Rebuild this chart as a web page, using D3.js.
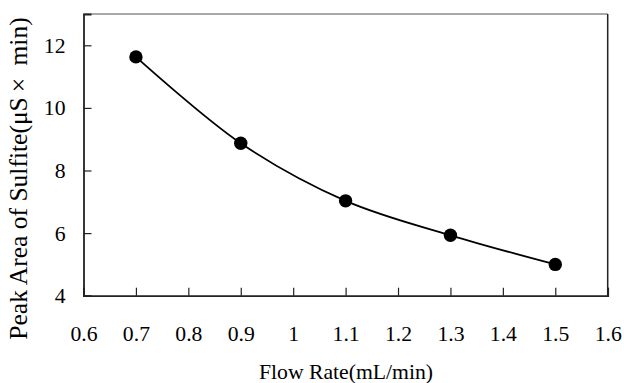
<!DOCTYPE html>
<html>
<head>
<meta charset="utf-8">
<script src="https://cdn.jsdelivr.net/npm/d3@7"></script>
</head>
<body style="margin:0;background:#fff">
<svg id="chart" width="624" height="383"></svg>
<script>
const flowRates = [0.7, 0.9, 1.1, 1.3, 1.5];
const peakAreas = [11.63, 8.87, 7.03, 5.93, 5.0];
const xTicks = [0.6, 0.7, 0.8, 0.9, 1.0, 1.1, 1.2, 1.3, 1.4, 1.5, 1.6];
const yTicks = [4, 6, 8, 10, 12];
const xTitle = "Flow Rate(mL/min)";
const yTitleParts = ["Peak Area of Sulfite(μS", "×", " min)"];

const SERIF = "Liberation Serif";
const svg = d3.select("#chart");
const pLeft = 83.5, pRight = 607.7, pTop = 14, pBottom = 295.7;

const x = d3.scaleLinear().domain([0.6, 1.6]).range([pLeft, pRight]);
const y = d3.scaleLinear().domain([4, 13]).range([pBottom, pTop]);

// frame: top and right
svg.append("line").attr("x1", pLeft).attr("x2", pRight).attr("y1", pTop).attr("y2", pTop)
  .attr("stroke", "#555").attr("stroke-width", 1.2);
svg.append("line").attr("x1", pRight).attr("x2", pRight).attr("y1", pTop).attr("y2", pBottom)
  .attr("stroke", "#222").attr("stroke-width", 1.5);

// x axis
const xAxis = d3.axisBottom(x).tickValues(xTicks).tickSize(-8).tickPadding(29.5)
  .tickFormat(d => String(+d.toFixed(1)));
const gx = svg.append("g").attr("transform", `translate(0,${pBottom})`).call(xAxis);
gx.attr("font-family", null).attr("font-size", null);
gx.select(".domain").attr("stroke", "#222").attr("stroke-width", 1.8);
gx.selectAll(".tick line").attr("stroke", "#222").attr("stroke-width", 1.2);
gx.selectAll(".tick text").style("font-family", SERIF).style("font-size", "21.7px").attr("fill", "#000");

// y axis
const yAxis = d3.axisLeft(y).tickValues(yTicks).tickSize(-8).tickPadding(18);
const gy = svg.append("g").attr("transform", `translate(${pLeft},0)`).call(yAxis);
gy.attr("font-family", null).attr("font-size", null);
gy.select(".domain").attr("stroke", "#222").attr("stroke-width", 1.8);
gy.selectAll(".tick line").attr("stroke", "#222").attr("stroke-width", 1.2);
gy.selectAll(".tick text").style("font-family", SERIF).style("font-size", "21.7px").attr("fill", "#000");

// smooth line
const pts = flowRates.map((f, i) => [f, peakAreas[i]]);
const line = d3.line().x(d => x(d[0])).y(d => y(d[1])).curve(d3.curveCatmullRom.alpha(0.5));
svg.append("path").datum(pts).attr("d", line).attr("fill", "none")
  .attr("stroke", "#000").attr("stroke-width", 1.8);

svg.selectAll("circle.pt").data(pts).enter().append("circle")
  .attr("class", "pt").attr("cx", d => x(d[0])).attr("cy", d => y(d[1]))
  .attr("r", 6.7).attr("fill", "#000");

// titles
svg.append("text").attr("x", 346).attr("y", 379).attr("text-anchor", "middle")
  .style("font-family", SERIF).style("font-size", "21.7px").text(xTitle);
const yt = svg.append("text").attr("transform", "translate(27,178.5) rotate(-90)")
  .attr("text-anchor", "middle").style("font-family", SERIF).style("font-size", "25.5px");
const gaps = [0, 5, 6];
yTitleParts.forEach((t, i) => {
  yt.append("tspan").attr("dx", gaps[i]).text(t);
});
</script>
</body>
</html>
